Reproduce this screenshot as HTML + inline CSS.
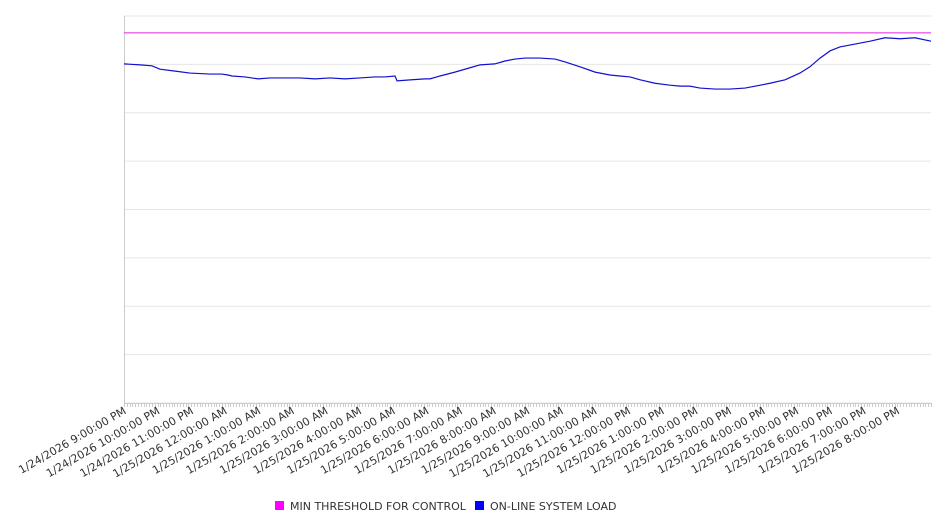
<!DOCTYPE html>
<html><head><meta charset="utf-8"><style>
body{margin:0;background:#fff;font-family:"DejaVu Sans","Liberation Sans",sans-serif;}
svg text{font-family:"DejaVu Sans","Liberation Sans",sans-serif;}
</style></head><body>
<svg id="c" width="946" height="526"></svg>
<script>
const hours=[0,0.48,0.83,1.07,1.52,1.96,2.56,2.91,3.09,3.21,3.60,3.99,4.34,4.79,5.23,5.68,6.13,6.57,7.02,7.46,7.76,8.06,8.12,8.51,8.95,9.10,9.40,9.84,10.29,10.59,11.03,11.33,11.63,11.93,12.37,12.82,13.12,13.56,14.01,14.45,14.75,15.05,15.35,15.79,16.24,16.54,16.83,17.13,17.58,18.02,18.47,18.92,19.21,19.66,20.10,20.40,20.70,21.00,21.29,21.74,22.19,22.63,23.08,23.52,24.0];
const loadValues=[7.01,6.99,6.97,6.90,6.86,6.82,6.80,6.80,6.78,6.76,6.74,6.70,6.72,6.72,6.72,6.70,6.72,6.70,6.72,6.74,6.74,6.76,6.66,6.68,6.70,6.70,6.76,6.84,6.93,6.99,7.01,7.07,7.11,7.13,7.13,7.11,7.05,6.95,6.84,6.78,6.76,6.74,6.68,6.61,6.57,6.55,6.55,6.51,6.49,6.49,6.51,6.57,6.61,6.68,6.82,6.95,7.13,7.28,7.36,7.42,7.48,7.55,7.53,7.55,7.48];
const thresholdValue=7.65;
const tickLabels=["1/24/2026 9:00:00 PM","1/24/2026 10:00:00 PM","1/24/2026 11:00:00 PM","1/25/2026 12:00:00 AM","1/25/2026 1:00:00 AM","1/25/2026 2:00:00 AM","1/25/2026 3:00:00 AM","1/25/2026 4:00:00 AM","1/25/2026 5:00:00 AM","1/25/2026 6:00:00 AM","1/25/2026 7:00:00 AM","1/25/2026 8:00:00 AM","1/25/2026 9:00:00 AM","1/25/2026 10:00:00 AM","1/25/2026 11:00:00 AM","1/25/2026 12:00:00 PM","1/25/2026 1:00:00 PM","1/25/2026 2:00:00 PM","1/25/2026 3:00:00 PM","1/25/2026 4:00:00 PM","1/25/2026 5:00:00 PM","1/25/2026 6:00:00 PM","1/25/2026 7:00:00 PM","1/25/2026 8:00:00 PM"];
const L=124,R=931,T=16,B=403,ymax=8,xmax=24;
const X=h=>L+h/xmax*(R-L), Y=v=>B-v/ymax*(B-T);
const svg=document.getElementById('c'),NS='http://www.w3.org/2000/svg';
function mk(t,a,p){const e=document.createElementNS(NS,t);for(const k in a)e.setAttribute(k,a[k]);(p||svg).appendChild(e);return e;}
for(let i=0;i<=ymax;i++){const g=mk('line',{x1:L,x2:R,y1:Y(i),y2:Y(i),stroke:'#e6e6e6','stroke-width':1});

}
const ya=mk('line',{x1:L+.5,x2:L+.5,y1:T,y2:B,stroke:'#ccc'});


const xa=mk('line',{x1:L,x2:R,y1:B+.5,y2:B+.5,stroke:'#ccc'});


for(let m=0;m<=xmax*12;m++){const x=Math.round(X(m/12))+.5;const t=mk('line',{x1:x,x2:x,y1:B,y2:B+4,stroke:'#ccc'});

}
tickLabels.forEach((s,i)=>{const x=X(i)+3,y=B+10;const t=mk('text',{x:x,y:y,'text-anchor':'end','font-size':11,fill:'#333',transform:`rotate(-30 ${x} ${y})`});t.textContent=s;

});
const th=mk('line',{x1:L,x2:R,y1:Y(thresholdValue),y2:Y(thresholdValue),stroke:'#e020e0','stroke-width':1});


const ln=mk('polyline',{points:hours.map((h,i)=>X(h)+','+Y(loadValues[i])).join(' '),fill:'none',stroke:'#1010d0','stroke-width':1.2});


const lg=mk('g',{});


const r1=mk('rect',{x:275,y:501,width:9,height:9,fill:'#ff00ff'},lg);


const t1=mk('text',{x:290,y:510,'font-size':11,fill:'#333'},lg);t1.textContent='MIN THRESHOLD FOR CONTROL';


const r2=mk('rect',{x:475,y:501,width:9,height:9,fill:'#0000ff'},lg);


const t2=mk('text',{x:490,y:510,'font-size':11,fill:'#333'},lg);t2.textContent='ON-LINE SYSTEM LOAD';


</script>
</body></html>
